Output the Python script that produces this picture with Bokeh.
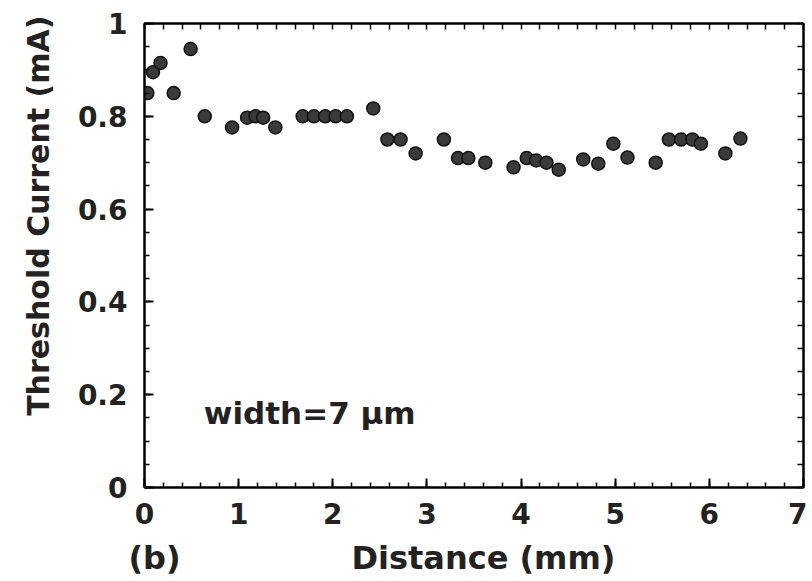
from bokeh.plotting import figure
from bokeh.models import LinearAxis, Label, Range1d, FixedTicker, Title
from bokeh.embed import file_html
from bokeh.resources import INLINE

# Data
distance_mm = [0.03, 0.09, 0.17, 0.31, 0.49, 0.64, 0.93, 1.09, 1.18, 1.26, 1.39,
               1.68, 1.80, 1.92, 2.03, 2.15, 2.43, 2.58, 2.72, 2.88, 3.18, 3.33,
               3.44, 3.62, 3.92, 4.06, 4.16, 4.27, 4.40, 4.66, 4.82, 4.98, 5.13,
               5.43, 5.57, 5.70, 5.82, 5.91, 6.17, 6.33]
threshold_mA = [0.85, 0.895, 0.915, 0.85, 0.945, 0.80, 0.776, 0.797, 0.80, 0.797, 0.776,
                0.80, 0.80, 0.80, 0.80, 0.80, 0.817, 0.75, 0.75, 0.72, 0.75, 0.71,
                0.71, 0.70, 0.69, 0.71, 0.705, 0.70, 0.685, 0.707, 0.698, 0.741, 0.711,
                0.70, 0.75, 0.75, 0.75, 0.741, 0.72, 0.752]
x_ticks = [0, 1, 2, 3, 4, 5, 6, 7]
y_ticks = [0, 0.2, 0.4, 0.6, 0.8, 1.0]
y_tick_labels = {0: "0", 0.2: "0.2", 0.4: "0.4", 0.6: "0.6", 0.8: "0.8", 1.0: "1"}
# bottom caption row: panel tag and x-axis title, placed at these distances
caption_pos = [0.106, 3.6]
caption_text = ["(b)", "Distance (mm)"]

FONT = "DejaVu Sans"
INK = "#222222"

p = figure(frame_width=659, frame_height=464, output_backend="svg", toolbar_location=None,
           x_range=Range1d(0, 7), y_range=Range1d(0, 1),
           min_border_left=144, min_border_right=4, min_border_top=23,
           min_border_bottom=90)
p.background_fill_color = "white"
p.border_fill_color = "white"
p.outline_line_color = "black"
p.outline_line_width = 2
p.xgrid.visible = False
p.ygrid.visible = False

x_minor = [round(i * 0.2, 2) for i in range(36)]
y_minor = [round(i * 0.05, 2) for i in range(21)]

def style(ax, ticks, minor, standoff):
    ax.ticker = FixedTicker(ticks=ticks, minor_ticks=minor)
    ax.axis_line_color = "black"
    ax.axis_line_width = 2
    ax.major_tick_line_color = "black"
    ax.major_tick_line_width = 2
    ax.minor_tick_line_color = "black"
    ax.minor_tick_line_width = 1.5
    ax.major_tick_in = 9
    ax.major_tick_out = 0
    ax.minor_tick_in = 5
    ax.minor_tick_out = 0
    ax.major_label_text_font = FONT
    ax.major_label_text_font_style = "bold"
    ax.major_label_text_color = INK
    ax.major_label_text_font_size = "28px"
    ax.major_label_standoff = standoff

def mirror(ax, minor):
    # tick marks only: every tick drawn as a (slightly longer) minor tick
    ax.ticker = FixedTicker(ticks=[], minor_ticks=minor)
    ax.axis_line_color = "black"
    ax.axis_line_width = 2
    ax.minor_tick_line_color = "black"
    ax.minor_tick_line_width = 1.5
    ax.minor_tick_in = 6
    ax.minor_tick_out = 0
    ax.major_tick_in = 0
    ax.major_tick_out = 0

xa = p.xaxis[0]
style(xa, x_ticks, x_minor, 15)
xa.axis_label = None

# second row below the x axis: "(b)" and "Distance (mm)"
cap = LinearAxis()
cap.ticker = FixedTicker(ticks=caption_pos, minor_ticks=[])
cap.major_label_overrides = dict(zip(caption_pos, caption_text))
cap.axis_line_color = None
cap.major_tick_line_color = None
cap.minor_tick_line_color = None
cap.major_tick_in = 0
cap.major_tick_out = 0
cap.major_label_text_font = FONT
cap.major_label_text_font_style = "bold"
cap.major_label_text_color = INK
cap.major_label_text_font_size = "32px"
cap.major_label_standoff = 12
p.add_layout(cap, "below")

ya = p.yaxis[0]
style(ya, y_ticks, y_minor, 17)
ya.major_label_overrides = y_tick_labels
ya.axis_label = None

ytitle = Title(text="Threshold Current (mA)", align="right", offset=-8, standoff=37,
               text_font=FONT, text_font_style="bold", text_font_size="30px",
               text_color=INK)
p.add_layout(ytitle, "left")

top = LinearAxis()
mirror(top, x_minor)
p.add_layout(top, "above")
right = LinearAxis()
mirror(right, y_minor)
p.add_layout(right, "right")

p.scatter(distance_mm, threshold_mA, marker="circle", size=13,
          fill_color="#3a3a3a", line_color="#111111", line_width=1.5)

p.add_layout(Label(x=0.63, y=0.16, text="width=7 \u00b5m", text_align="left",
                   text_baseline="middle", text_font=FONT, text_font_style="bold",
                   text_font_size="31px", text_color=INK))

open("out.html", "w").write(file_html(p, INLINE))
